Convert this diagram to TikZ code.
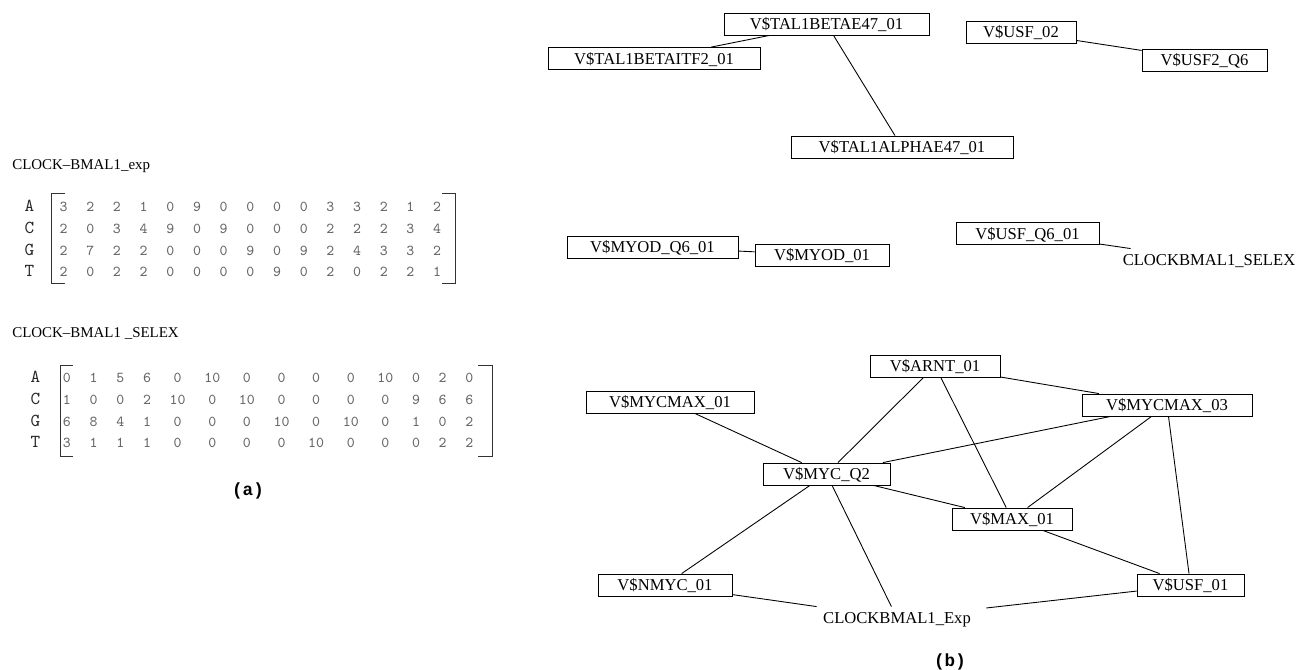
\documentclass[tikz,border=0pt]{standalone}
\usepackage{fontspec}
\setmainfont{Liberation Serif}
\newfontfamily\panelmono{Liberation Mono}
\usepackage{tikz}
\usetikzlibrary{matrix}

\newcommand{\tfname}{\fontsize{9.45}{11}\selectfont}
\newcommand{\pwmtitle}{\fontsize{8.5}{10}\selectfont}
\newcommand{\pwmbase}{\ttfamily\fontsize{10.4}{12}\selectfont}
\newcommand{\pwmdigit}{\ttfamily\fontsize{8.6}{10}\selectfont}
\newcommand{\panelfont}{\panelmono\bfseries\fontsize{10}{12}\selectfont}

\begin{document}
\begin{tikzpicture}[
	tf/.style={draw, rectangle, line width=0.5pt, minimum height=0.44cm,
		inner sep=1pt, text height=7.6pt, text depth=1.3pt, font=\tfname},
	tftext/.style={tf, draw=none},
	link/.style={line width=0.5pt},
	pwm/.style={matrix of nodes, anchor=north west, inner sep=0pt,
		column sep=0.375cm,
		nodes={inner sep=0pt, minimum height=0.434cm, text height=5pt,
			text depth=0pt, font=\pwmdigit, text=black!60},
		column 1/.style={nodes={font=\pwmbase, text=black!85}}},
	bracket/.style={line width=0.5pt, black!80}]
	\useasboundingbox (0,0) rectangle (25.98,-13.38);

	% (a) the two count matrices
	\node[anchor=base west, inner sep=0pt, font=\pwmtitle]
		  (exptitle) at (0.24,-3.38) {CLOCK–BMAL1\_exp};
	\matrix (expmat) [pwm] at (0.483,-3.923) {
		A &[0.135cm] 3 & 2 & 2 & 1 & 0 & 9 & 0 & 0 & 0 & 0 & 3 & 3 & 2 & 1 & 2 \\
		C & 2 & 0 & 3 & 4 & 9 & 0 & 9 & 0 & 0 & 0 & 2 & 2 & 2 & 3 & 4 \\
		G & 2 & 7 & 2 & 2 & 0 & 0 & 0 & 9 & 0 & 9 & 2 & 4 & 3 & 3 & 2 \\
		T & 2 & 0 & 2 & 2 & 0 & 0 & 0 & 0 & 9 & 0 & 2 & 0 & 2 & 2 & 1 \\
	};
	\draw[bracket] ([xshift=-0.15cm,yshift=0.063cm]expmat-1-2.north west) ++(0.26,0)
		-| ([xshift=-0.15cm]expmat-4-2.south west) -- ++(0.26,0);
	\draw[bracket] ([xshift=0.27cm,yshift=0.063cm]expmat-1-16.north east) ++(-0.25,0)
		-| ([xshift=0.27cm]expmat-4-16.south east) -- ++(-0.25,0);

	\node[anchor=base west, inner sep=0pt, font=\pwmtitle]
		  (selextitle) at (0.24,-6.75) {CLOCK–BMAL1 \_SELEX};
	\matrix (selexmat) [pwm] at (0.603,-7.343) {
		A &[0.083cm] 0 & 1 & 5 & 6 & 0 & 10 & 0 & 0 & 0 & 0 & 10 & 0 & 2 & 0 \\
		C & 1 & 0 & 0 & 2 & 10 & 0 & 10 & 0 & 0 & 0 & 0 & 9 & 6 & 6 \\
		G & 6 & 8 & 4 & 1 & 0 & 0 & 0 & 10 & 0 & 10 & 0 & 1 & 0 & 2 \\
		T & 3 & 1 & 1 & 1 & 0 & 0 & 0 & 0 & 10 & 0 & 0 & 0 & 2 & 2 \\
	};
	\draw[bracket] ([xshift=-0.04cm,yshift=0.043cm]selexmat-1-2.north west) ++(0.25,0)
		-| ([xshift=-0.04cm,yshift=-0.033cm]selexmat-4-2.south west) -- ++(0.25,0);
	\draw[bracket] ([xshift=0.37cm,yshift=0.043cm]selexmat-1-15.north east) ++(-0.28,0)
		-| ([xshift=0.37cm,yshift=-0.033cm]selexmat-4-15.south east) -- ++(-0.28,0);

	\node[font=\panelfont] (pa) at (4.96,-9.82) {(a)};

	% (b) the factor networks
	\node[tf, minimum width=4.10cm] (talbeta) at (16.53,-0.48) {V\$TAL1BETAE47\_01};
	\node[tf, minimum width=4.24cm] (talitf) at (13.08,-1.17) {V\$TAL1BETAITF2\_01};
	\node[tf, minimum width=4.44cm] (talalpha) at (18.04,-2.94) {V\$TAL1ALPHAE47\_01};
	\node[tf, minimum width=2.20cm] (usf02) at (20.42,-0.64) {V\$USF\_02};
	\node[tf, minimum width=2.50cm] (usf2q6) at (24.09,-1.20) {V\$USF2\_Q6};
	\node[tf, minimum width=3.42cm] (myodq6) at (13.05,-4.94) {V\$MYOD\_Q6\_01};
	\node[tf, minimum width=2.68cm] (myod) at (16.44,-5.10) {V\$MYOD\_01};
	\node[tf, minimum width=2.86cm] (usfq6) at (20.55,-4.67) {V\$USF\_Q6\_01};
	\node[tftext, minimum width=4.08cm] (selex) at (24.18,-5.20) {CLOCKBMAL1\_SELEX};

	\draw[link] (talbeta) -- (talitf);
	\draw[link] (talbeta) -- (talalpha);
	\draw[link] (usf02) -- (usf2q6);
	\draw[link] (myodq6) -- (myod);
	\draw[link] (usfq6) -- (selex);

	\node[tf, minimum width=2.60cm] (arnt) at (18.70,-7.32) {V\$ARNT\_01};
	\node[tf, minimum width=3.36cm] (mycmax1) at (13.40,-8.04) {V\$MYCMAX\_01};
	\node[tf, minimum width=3.40cm] (mycmax3) at (23.34,-8.10) {V\$MYCMAX\_03};
	\node[tf, minimum width=2.54cm] (mycq2) at (16.53,-9.48) {V\$MYC\_Q2};
	\node[tf, minimum width=2.40cm] (max01) at (20.24,-10.38) {V\$MAX\_01};
	\node[tf, minimum width=2.68cm] (nmyc) at (13.30,-11.70) {V\$NMYC\_01};
	\node[tf, minimum width=2.14cm] (usf01) at (23.81,-11.70) {V\$USF\_01};
	\node[tftext, minimum width=3.56cm] (clockexp) at (17.94,-12.36) {CLOCKBMAL1\_Exp};

	\draw[link] (arnt) -- (mycq2);
	\draw[link] (arnt) -- (max01);
	\draw[link] (arnt) -- (mycmax3);
	\draw[link] (mycmax1) -- (mycq2);
	\draw[link] (mycmax3) -- (mycq2);
	\draw[link] (mycmax3) -- (max01);
	\draw[link] (mycmax3) -- (usf01);
	\draw[link] (mycq2) -- (max01);
	\draw[link] (mycq2) -- (nmyc);
	\draw[link] (mycq2) -- (clockexp);
	\draw[link] (max01) -- (usf01);
	\draw[link] (nmyc) -- (clockexp);
	\draw[link] (usf01) -- (clockexp);

	\node[font=\panelfont] (pb) at (19.00,-13.24) {(b)};
\end{tikzpicture}
\end{document}
